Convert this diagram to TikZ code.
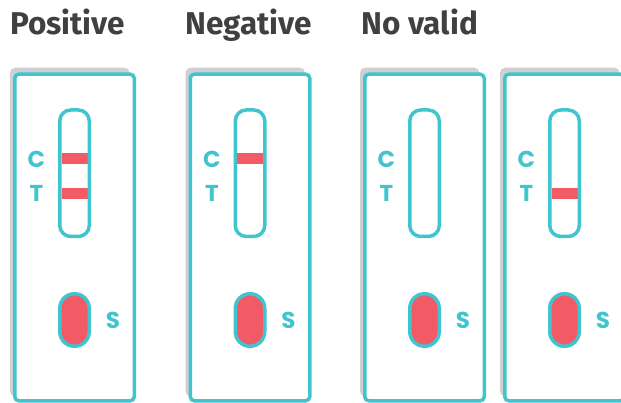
\documentclass[tikz,border=0pt]{standalone}
\usepackage{fontspec}
\setmainfont{Fira Sans}
\newfontfamily\labfont{Poppins}
\definecolor{teal1}{RGB}{64,196,206}
\definecolor{red1}{RGB}{242,90,102}
\definecolor{shadow1}{RGB}{208,208,210}
\definecolor{title1}{RGB}{64,64,64}
\tikzset{
  cassette/.style={draw=teal1, line width=3.5pt, fill=white, rounded corners=4pt},
  cshadow/.style={fill=shadow1, rounded corners=5pt},
  window/.style={draw=teal1, line width=3.5pt, rounded corners=11pt},
  well/.style={draw=teal1, fill=red1, line width=3.5pt, rounded corners=14.7pt},
  band/.style={fill=red1},
  lab/.style={text=teal1, font=\labfont\bfseries\fontsize{23}{23}\selectfont, inner sep=0pt},
  ttl/.style={text=title1, font=\bfseries\fontsize{31.5}{31.5}\selectfont, inner sep=0pt, anchor=base west},
}
\newcommand{\cassetteat}[3]{% center x, C band, T band
  \fill[cshadow] (#1-64.5,67.75) rectangle (#1+55,396.25);
  \draw[cassette] (#1-59.75,74.25) rectangle (#1+59.75,400.75);
  \ifnum#2=1 \fill[band] (#1-13,153) rectangle (#1+13,164); \fi
  \ifnum#3=1 \fill[band] (#1-13,188) rectangle (#1+13,199); \fi
  \draw[window] (#1-14.75,110) rectangle (#1+14.75,236.5);
  \draw[well] (#1-14.75,293.75) rectangle (#1+14.75,346.25);
  \node[lab] at (#1-38,159) {C};
  \node[lab] at (#1-38,193.5) {T};
  \node[lab] at (#1+38.5,320) {S};
}
\begin{document}
\begin{tikzpicture}[x=1pt,y=-1pt]
\useasboundingbox (0,0) rectangle (621,403);
\clip (0,0) rectangle (621,403);
\node[ttl] (t1) at (10,35) {Positive};
\node[ttl] (t2) at (185,35) {Negative};
\node[ttl] (t3) at (361.5,35) {No valid};
\cassetteat{74.5}{1}{1}
\cassetteat{250}{1}{0}
\cassetteat{424.5}{0}{0}
\cassetteat{564.5}{0}{1}
\end{tikzpicture}
\end{document}
